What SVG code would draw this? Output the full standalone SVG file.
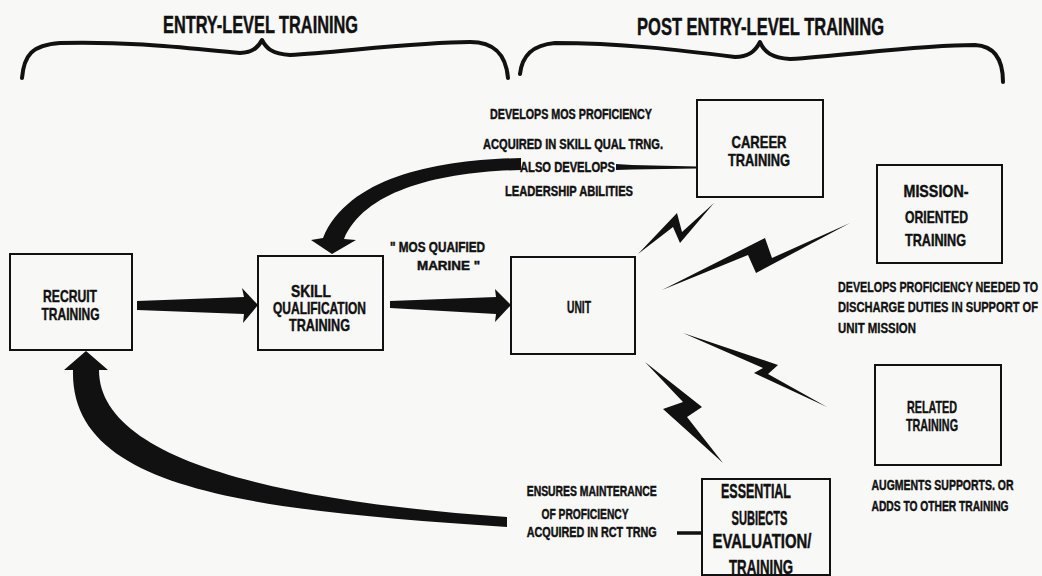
<svg xmlns="http://www.w3.org/2000/svg" width="1042" height="576" viewBox="0 0 1042 576">
  <style>
    .bg { fill: #f8f8f6; }
    .box { fill: none; stroke: #111; stroke-width: 2; }
    .t { font-family: "Liberation Sans", Arial, sans-serif; font-weight: bold; fill: #111; stroke: #111; stroke-width: 0.45; text-anchor: middle; }
    .ts { font-family: "Liberation Sans", Arial, sans-serif; font-weight: bold; fill: #111; stroke: #111; stroke-width: 0.35; text-anchor: start; }
    .lbl { font-size: 17px; }
    .big { font-size: 20px; }
    .cap { font-size: 14.5px; }
    .hdr { font-size: 24px; }
    .ink { fill: #111; stroke: none; }
    .brace { fill: none; stroke: #111; stroke-width: 4; stroke-linecap: round; stroke-linejoin: round; }
    .rule { fill: none; stroke: #111; stroke-width: 3.5; }
  </style>

  <rect class="bg" x="0" y="0" width="1042" height="576"/>

  <!-- section headings with braces -->
  <g id="heading-entry">
    <text class="t hdr" x="260.5" y="33" textLength="195" lengthAdjust="spacingAndGlyphs">ENTRY-LEVEL TRAINING</text>
    <path class="brace" d="M 22 78 C 24 55, 32 45, 60 43 C 140 41, 200 50, 240 53 C 252 53, 258 48, 262 40 C 266 48, 272 54, 290 55 C 340 52, 420 42, 470 42 C 495 42, 506 55, 508 78"/>
  </g>
  <g id="heading-post">
    <text class="t hdr" x="760.5" y="35" textLength="247" lengthAdjust="spacingAndGlyphs">POST ENTRY-LEVEL TRAINING</text>
    <path class="brace" d="M 520 74 C 522 56, 532 45, 555 43 C 620 43, 680 50, 735 57 C 748 57, 755 52, 760 42 C 764 52, 772 58, 790 59 C 850 55, 920 45, 975 45 C 995 46, 1003 60, 1003 82"/>
  </g>

  <!-- connectors: block arrows, lightning links and lead lines -->
  <g id="connectors">
    <!-- recruit -> skill qualification -->
    <polygon class="ink" points="137,301 244,297 242,288 258,305 243,323 244,314 137,310"/>
    <!-- skill qualification -> unit -->
    <polygon class="ink" points="390,301 496,297 495,289 511,305 495,322 496,314 390,308"/>
    <!-- career training -> skill qualification (curved) -->
    <path class="ink" d="M 521 158 C 440 160, 350 175, 323 238 L 311 240 L 332 254 L 356 240 L 344 239 C 365 190, 440 172, 521 170 Z"/>
    <polygon class="ink" points="616,164 632,165 697,166.5 697,168.5 632,169.5 616,170"/>
    <!-- essential subjects -> recruit (curved) -->
    <path class="ink" d="M 507 527 C 250 510, 70 490, 73 370 L 64 370 L 86 351 L 108 370 L 99 370 C 99 455, 260 500, 507 517 Z"/>
    <line class="rule" x1="677" y1="533" x2="703" y2="533"/>
    <!-- lightning links from unit -->
    <polygon class="ink" points="638,254 677,213 682,232 714,203 680,243 673,227"/>
    <polygon class="ink" points="662,290 765,238 772,258 850,223 756,273 748,255"/>
    <polygon class="ink" points="683,333 778,365 768,374 827,407 754,373 763,368"/>
    <polygon class="ink" points="645,362 702,407 687,417 723,463 663,409 683,402"/>
  </g>

  <g id="node-recruit">
    <rect class="box" x="10" y="254" width="122" height="96"/>
    <text class="t lbl" x="70" y="301.5" textLength="54" lengthAdjust="spacingAndGlyphs">RECRUIT</text>
    <text class="t lbl" x="70.5" y="320" textLength="58" lengthAdjust="spacingAndGlyphs">TRAINING</text>
  </g>

  <g id="node-skill">
    <rect class="box" x="258" y="256" width="125" height="94"/>
    <text class="t lbl" x="311" y="296.5" textLength="40" lengthAdjust="spacingAndGlyphs">SKILL</text>
    <text class="t lbl" x="319.5" y="313.5" textLength="93" lengthAdjust="spacingAndGlyphs">QUALIFICATION</text>
    <text class="t lbl" x="319.5" y="330.5" textLength="61" lengthAdjust="spacingAndGlyphs">TRAINING</text>
  </g>

  <g id="label-mos">
    <text class="t" font-size="14" x="437.5" y="251.5" textLength="95" lengthAdjust="spacingAndGlyphs">" MOS QUAIFIED</text>
    <text class="t" font-size="12.5" x="448.5" y="269.5" textLength="63" lengthAdjust="spacingAndGlyphs">MARINE "</text>
  </g>

  <g id="node-unit">
    <rect class="box" x="511" y="257" width="124" height="97"/>
    <text class="t lbl" x="579" y="313" textLength="24" lengthAdjust="spacingAndGlyphs">UNIT</text>
  </g>

  <g id="node-career">
    <rect class="box" x="697" y="100" width="126" height="97"/>
    <text class="t lbl" x="759" y="148" textLength="55" lengthAdjust="spacingAndGlyphs">CAREER</text>
    <text class="t lbl" x="759" y="166" textLength="62" lengthAdjust="spacingAndGlyphs">TRAINING</text>
  </g>
  <g id="note-career">
    <text class="t cap" x="571" y="119" textLength="162" lengthAdjust="spacingAndGlyphs">DEVELOPS MOS PROFICIENCY</text>
    <text class="t cap" x="573" y="149" textLength="180" lengthAdjust="spacingAndGlyphs">ACQUIRED IN SKILL QUAL TRNG.</text>
    <text class="t cap" x="567.5" y="171.5" textLength="95" lengthAdjust="spacingAndGlyphs">ALSO DEVELOPS</text>
    <text class="t cap" x="569" y="196" textLength="128" lengthAdjust="spacingAndGlyphs">LEADERSHIP ABILITIES</text>
  </g>

  <g id="node-mission">
    <rect class="box" x="877" y="165" width="125" height="98"/>
    <text class="t lbl" x="936" y="196.5" textLength="65" lengthAdjust="spacingAndGlyphs">MISSION-</text>
    <text class="t lbl" x="936.5" y="222.5" textLength="63" lengthAdjust="spacingAndGlyphs">ORIENTED</text>
    <text class="t lbl" x="935.5" y="246" textLength="61" lengthAdjust="spacingAndGlyphs">TRAINING</text>
  </g>
  <g id="note-mission">
    <text class="ts cap" x="838" y="291.5" textLength="200" lengthAdjust="spacingAndGlyphs">DEVELOPS PROFICIENCY NEEDED TO</text>
    <text class="ts cap" x="838" y="312" textLength="200" lengthAdjust="spacingAndGlyphs">DISCHARGE DUTIES IN SUPPORT OF</text>
    <text class="ts cap" x="838" y="332.5" textLength="78" lengthAdjust="spacingAndGlyphs">UNIT MISSION</text>
  </g>

  <g id="node-related">
    <rect class="box" x="875" y="365" width="126" height="100"/>
    <text class="t lbl" x="932" y="412.5" textLength="50" lengthAdjust="spacingAndGlyphs">RELATED</text>
    <text class="t lbl" x="932" y="430.5" textLength="52" lengthAdjust="spacingAndGlyphs">TRAINING</text>
  </g>
  <g id="note-related">
    <text class="t cap" x="942.5" y="490" textLength="142" lengthAdjust="spacingAndGlyphs">AUGMENTS SUPPORTS. OR</text>
    <text class="t cap" x="940" y="510.5" textLength="137" lengthAdjust="spacingAndGlyphs">ADDS TO OTHER TRAINING</text>
  </g>

  <g id="node-essential">
    <rect class="box" x="702" y="479" width="128" height="96"/>
    <text class="t big" x="756" y="498" textLength="70" lengthAdjust="spacingAndGlyphs">ESSENTIAL</text>
    <text class="t big" x="759.5" y="525" textLength="56" lengthAdjust="spacingAndGlyphs">SUBIECTS</text>
    <text class="t big" x="762" y="548" textLength="99" lengthAdjust="spacingAndGlyphs">EVALUATION/</text>
    <text class="t big" x="761" y="573.5" textLength="64" lengthAdjust="spacingAndGlyphs">TRAINING</text>
  </g>
  <g id="note-essential">
    <text class="t" font-size="14" x="591.7" y="496" textLength="130" lengthAdjust="spacingAndGlyphs">ENSURES MAINTERANCE</text>
    <text class="t" font-size="14" x="585" y="519" textLength="87" lengthAdjust="spacingAndGlyphs">OF PROFICIENCY</text>
    <text class="t" font-size="14" x="591.7" y="537" textLength="130" lengthAdjust="spacingAndGlyphs">ACQUIRED IN RCT TRNG</text>
  </g>
</svg>
